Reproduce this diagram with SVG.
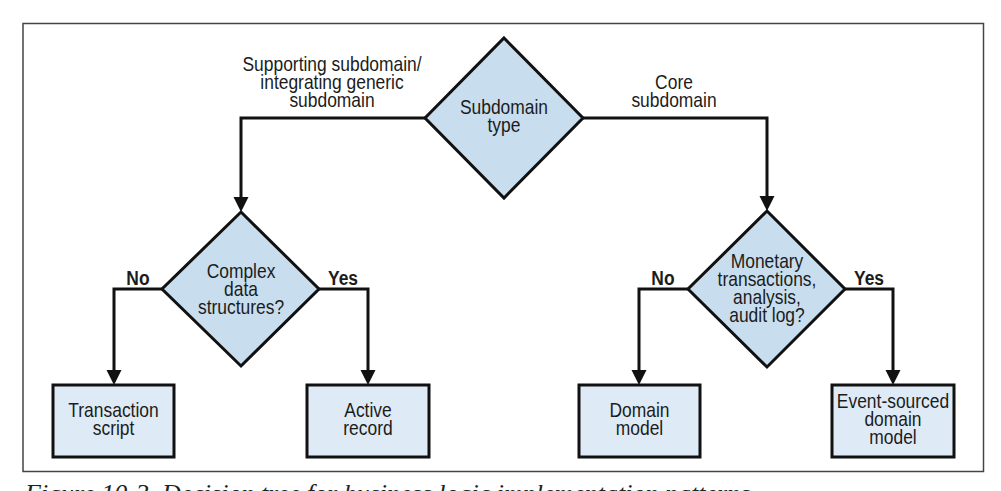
<svg xmlns="http://www.w3.org/2000/svg" width="1001" height="491" viewBox="0 0 1001 491">
<style>
text{font-family:"Liberation Sans",Arial,sans-serif;font-size:20.5px;fill:#1c1c1c;text-anchor:middle;transform-box:fill-box;transform-origin:center;transform:scaleX(0.85)}
.b{font-weight:bold}
.dia{fill:#c8deee;stroke:#111;stroke-width:3;stroke-linejoin:miter}
.box{fill:#deebf6;stroke:#111;stroke-width:3}
.con{fill:none;stroke:#111;stroke-width:3}
text.cap{font-family:"Liberation Serif",serif;font-style:italic;font-size:26px;fill:#222;text-anchor:start;transform:none}
</style>
<defs>
<marker id="ah" markerUnits="userSpaceOnUse" markerWidth="16" markerHeight="16" refX="5" refY="7.5" orient="auto">
<path d="M0,0 L15,7.5 L0,15 z" fill="#111"/>
</marker>
</defs>
<rect x="0" y="0" width="1001" height="491" fill="#fff"/>
<rect x="23" y="23.5" width="960.5" height="448" fill="none" stroke="#444" stroke-width="1.5"/>
<g id="connectors">
<path class="con" d="M425,118 H241 V202" marker-end="url(#ah)"/>
<path class="con" d="M583,118 H767 V201" marker-end="url(#ah)"/>
<path class="con" d="M162,289 H114 V375" marker-end="url(#ah)"/>
<path class="con" d="M319,289 H368 V375" marker-end="url(#ah)"/>
<path class="con" d="M688,289 H639 V375" marker-end="url(#ah)"/>
<path class="con" d="M845,289 H893 V375" marker-end="url(#ah)"/>
<text x="332" y="71">Supporting subdomain/</text>
<text x="332" y="89">integrating generic</text>
<text x="332" y="107">subdomain</text>
<text x="674" y="89">Core</text>
<text x="674" y="107">subdomain</text>
<text class="b" x="138" y="285">No</text>
<text class="b" x="343" y="285">Yes</text>
<text class="b" x="663" y="285">No</text>
<text class="b" x="869" y="285">Yes</text>
</g>
<g id="subdomain-type">
<polygon class="dia" points="504,38 583,118 504,198 425,118"/>
<text x="504" y="114">Subdomain</text>
<text x="504" y="132">type</text>
</g>
<g id="complex-data">
<polygon class="dia" points="241,212 319,289 241,366 162,289"/>
<text x="241" y="278">Complex</text>
<text x="241" y="296">data</text>
<text x="241" y="314">structures?</text>
</g>
<g id="monetary">
<polygon class="dia" points="767,211 845,289 767,367 688,289"/>
<text x="767" y="268">Monetary</text>
<text x="767" y="286">transactions,</text>
<text x="767" y="304">analysis,</text>
<text x="767" y="322">audit log?</text>
</g>
<g id="transaction-script">
<rect class="box" x="53" y="385" width="121" height="72"/>
<text x="113.5" y="417">Transaction</text>
<text x="113.5" y="435">script</text>
</g>
<g id="active-record">
<rect class="box" x="307" y="385" width="122" height="72"/>
<text x="368" y="417">Active</text>
<text x="368" y="435">record</text>
</g>
<g id="domain-model">
<rect class="box" x="579" y="385" width="121" height="72"/>
<text x="639.5" y="417">Domain</text>
<text x="639.5" y="435">model</text>
</g>
<g id="event-sourced">
<rect class="box" x="832" y="385" width="122" height="72"/>
<text x="893" y="408">Event-sourced</text>
<text x="893" y="426">domain</text>
<text x="893" y="444">model</text>
</g>
<text class="cap" x="25" y="502">Figure 10-3. Decision tree for business logic implementation patterns</text>
</svg>
